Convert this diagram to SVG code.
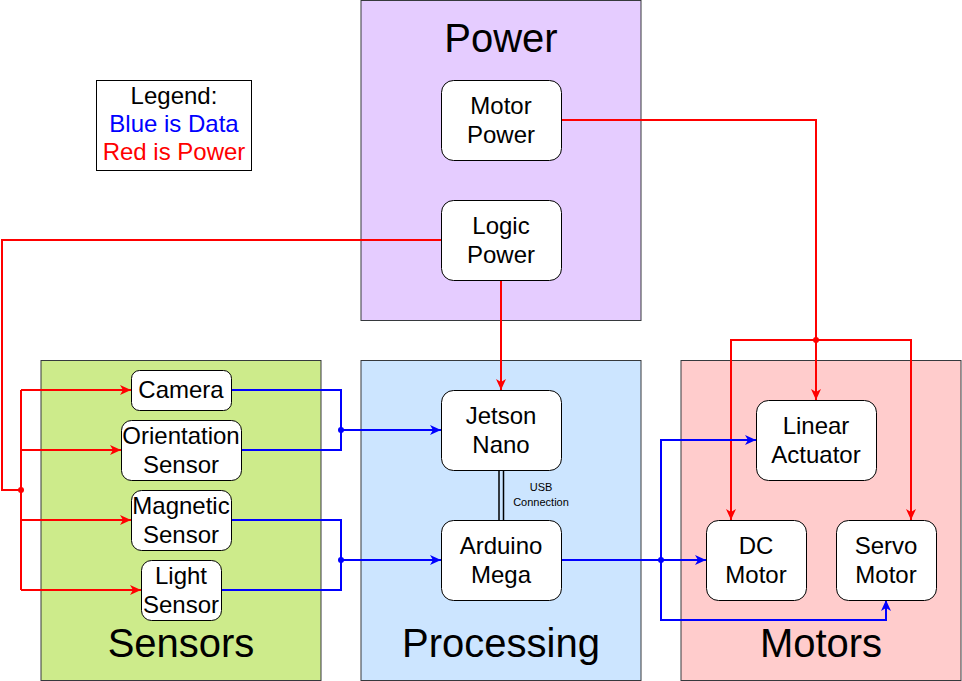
<svg xmlns="http://www.w3.org/2000/svg" width="962" height="681" viewBox="0 0 962 681">
<style>
.cont{stroke:#36393d;stroke-width:1}
.node{fill:#ffffff;stroke:#000000;stroke-width:1}
.t{font-family:"Liberation Sans",Arial,sans-serif;font-size:24px;fill:#000;text-anchor:middle}
.title{font-family:"Liberation Sans",Arial,sans-serif;font-size:40px;fill:#000;text-anchor:middle}
.small{font-family:"Liberation Sans",Arial,sans-serif;font-size:11px;fill:#000;text-anchor:middle}
.red{fill:none;stroke:#ff0000;stroke-width:2}
.blue{fill:none;stroke:#0000ff;stroke-width:2}
.ra{marker-end:url(#arR)}
.ba{marker-end:url(#arB)}
</style>
<defs>
<marker id="arR" markerUnits="userSpaceOnUse" markerWidth="12" markerHeight="12" viewBox="-11 -6 12 12" refX="0" refY="0" orient="auto"><path d="M-11,-5 L0,0 L-11,5 L-8,0 Z" fill="#ff0000"/></marker>
<marker id="arB" markerUnits="userSpaceOnUse" markerWidth="12" markerHeight="12" viewBox="-11 -6 12 12" refX="0" refY="0" orient="auto"><path d="M-11,-5 L0,0 L-11,5 L-8,0 Z" fill="#0000ff"/></marker>
</defs>
<rect width="962" height="681" fill="#ffffff"/>

<g id="power-group">
<rect class="cont" x="361" y="0.5" width="280" height="320" fill="#e5ccff"/>
<text class="title" x="501" y="52">Power</text>
</g>
<g id="sensors-group">
<rect class="cont" x="41" y="360.5" width="280" height="320" fill="#cdeb8b"/>
<text class="title" x="181" y="657">Sensors</text>
</g>
<g id="processing-group">
<rect class="cont" x="361" y="360.5" width="280" height="320" fill="#cce5ff"/>
<text class="title" x="501" y="657">Processing</text>
</g>
<g id="motors-group">
<rect class="cont" x="681" y="360.5" width="280" height="320" fill="#ffcccc"/>
<text class="title" x="821" y="657">Motors</text>
</g>

<g id="legend">
<rect x="96.5" y="80.5" width="155" height="90" fill="#ffffff" stroke="#000"/>
<text class="t" x="174" y="104">Legend:</text>
<text class="t" x="174" y="132" style="fill:#0000ff">Blue is Data</text>
<text class="t" x="174" y="160" style="fill:#ff0000">Red is Power</text>
</g>

<g id="connectors">
<polyline class="red ra" points="561,120 816,120 816,400"/>
<polyline class="red ra" points="816,340 731,340 731,520"/>
<polyline class="red ra" points="816,340 911,340 911,520"/>
<circle cx="816" cy="340" r="3" fill="#ff0000"/>
<polyline class="red" points="441,240 2,240 2,490 21,490"/>
<polyline class="red" points="21,390 21,590"/>
<circle cx="21" cy="490" r="3" fill="#ff0000"/>
<polyline class="red ra" points="21,390 131,390"/>
<polyline class="red ra" points="21,450 121,450"/>
<polyline class="red ra" points="21,520 131,520"/>
<polyline class="red ra" points="21,590 141,590"/>
<polyline class="red ra" points="501,280 501,390"/>

<polyline class="blue" points="231,390 341,390 341,450 241,450"/>
<polyline class="blue ba" points="341,430 441,430"/>
<circle cx="341" cy="430" r="3" fill="#0000ff"/>
<polyline class="blue" points="231,520 341,520 341,590 221,590"/>
<polyline class="blue ba" points="341,560 441,560"/>
<circle cx="341" cy="560" r="3" fill="#0000ff"/>
<polyline class="blue ba" points="561,560 706,560"/>
<polyline class="blue ba" points="661,560 661,440 756,440"/>
<polyline class="blue ba" points="661,560 661,620 886,620 886,600"/>
<circle cx="661" cy="560" r="3" fill="#0000ff"/>

<line x1="499" y1="470" x2="499" y2="520" stroke="#000" stroke-width="1.5"/>
<line x1="503.5" y1="470" x2="503.5" y2="520" stroke="#000" stroke-width="1.5"/>
<text class="small" x="541" y="491">USB</text>
<text class="small" x="541" y="506">Connection</text>
</g>

<g id="motor-power">
<rect class="node" x="441.5" y="80.5" width="120" height="80" rx="12"/>
<text class="t" x="501" y="114">Motor</text>
<text class="t" x="501" y="143">Power</text>
</g>
<g id="logic-power">
<rect class="node" x="441.5" y="200.5" width="120" height="80" rx="12"/>
<text class="t" x="501" y="234">Logic</text>
<text class="t" x="501" y="263">Power</text>
</g>
<g id="jetson-nano">
<rect class="node" x="441.5" y="390.5" width="120" height="80" rx="12"/>
<text class="t" x="501" y="424">Jetson</text>
<text class="t" x="501" y="453">Nano</text>
</g>
<g id="arduino-mega">
<rect class="node" x="441.5" y="520.5" width="120" height="80" rx="12"/>
<text class="t" x="501" y="554">Arduino</text>
<text class="t" x="501" y="583">Mega</text>
</g>
<g id="camera">
<rect class="node" x="131.5" y="370.5" width="100" height="40" rx="8"/>
<text class="t" x="181" y="398">Camera</text>
</g>
<g id="orientation-sensor">
<rect class="node" x="121.5" y="420.5" width="120" height="60" rx="10"/>
<text class="t" x="181" y="444">Orientation</text>
<text class="t" x="181" y="473">Sensor</text>
</g>
<g id="magnetic-sensor">
<rect class="node" x="131.5" y="490.5" width="100" height="60" rx="10"/>
<text class="t" x="181" y="514">Magnetic</text>
<text class="t" x="181" y="543">Sensor</text>
</g>
<g id="light-sensor">
<rect class="node" x="141.5" y="560.5" width="80" height="60" rx="10"/>
<text class="t" x="181" y="584">Light</text>
<text class="t" x="181" y="613">Sensor</text>
</g>
<g id="linear-actuator">
<rect class="node" x="756.5" y="400.5" width="120" height="80" rx="12"/>
<text class="t" x="816" y="434">Linear</text>
<text class="t" x="816" y="463">Actuator</text>
</g>
<g id="dc-motor">
<rect class="node" x="706.5" y="520.5" width="100" height="80" rx="12"/>
<text class="t" x="756" y="554">DC</text>
<text class="t" x="756" y="583">Motor</text>
</g>
<g id="servo-motor">
<rect class="node" x="836.5" y="520.5" width="100" height="80" rx="12"/>
<text class="t" x="886" y="554">Servo</text>
<text class="t" x="886" y="583">Motor</text>
</g>
</svg>
